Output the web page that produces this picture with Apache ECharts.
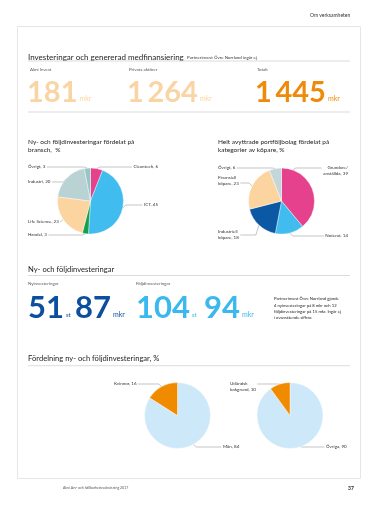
<!DOCTYPE html>
<html><head><meta charset="utf-8">
<script src="https://cdn.jsdelivr.net/npm/echarts@6/dist/echarts.min.js"></script>
<style>html,body{margin:0;padding:0;background:#fff}#c{width:380px;height:506px}</style>
</head><body><div id="c"></div>
<script>
// ---------- data ----------
const summaryLabels = ['Almi Invest', 'Privata aktörer', 'Totalt'];
const summaryValues = [181, 1264, 1445];
const summaryUnit = 'mkr';

const investLabels = ['Nyinvesteringar', 'Följdinvesteringar'];
const investCounts = [51, 104];
const investAmounts = [87, 94];
const countUnit = 'st';
const amountUnit = 'mkr';

const sectorCategories = ['Cleantech', 'ICT', 'Handel', 'Life Science', 'Industri', 'Övrigt'];
const sectorValues = [6, 45, 3, 23, 20, 3];

const buyerCategories = ['Grundare/anställda', 'Noterat', 'Industriell köpare', 'Finansiell köpare', 'Övrigt'];
const buyerValues = [39, 14, 18, 23, 6];

const genderCategories = ['Män', 'Kvinnor'];
const genderValues = [84, 16];

const backgroundCategories = ['Övriga', 'Utländsk bakgrund'];
const backgroundValues = [90, 10];

// ---------- styles / layout ----------
const FONT = 'Lato, "Noto Sans", sans-serif';
const summaryColors = ['#f9d5a5', '#f9d5a5', '#ee8a0c'];
const summaryX = [30, 129, 257];
const summaryNumX = [27, 127, 255];
const investColors = ['#0d4f9f', '#3bb8ee'];
const investLabelX = [28, 136];
const investCountX = [28, 136];
const investAmountX = [75, 204];

const sectorColors = ['#e5418d', '#40bcef', '#17a04c', '#fcd4a0', '#b9d2d4', '#98c6c7'];
const buyerColors = ['#e5418d', '#40bcef', '#0b58a5', '#fcd4a0', '#c3d7db'];
const shareColors = ['#cde8f8', '#f08b00'];

const wrapAt = { 'Grundare/anställda': '/', 'Industriell köpare': ' ', 'Finansiell köpare': ' ', 'Utländsk bakgrund': ' ' };
function wrapName(n) {
  const ch = wrapAt[n];
  if (!ch) return n;
  return ch === '/' ? n.replace('/', '/\n') : n.replace(' ', '\n');
}
function fmt(v) {
  const s = String(v);
  return s.length > 3 ? s.slice(0, s.length - 3) + '\u2009' + s.slice(-3) : s;
}

const g = [];
function txt(x, y, text, opt) {
  g.push({ type: 'text', x: x, y: y, silent: true,
    style: Object.assign({ text: text, fontFamily: FONT, fontSize: 5, fill: '#333', align: 'left', verticalAlign: 'middle' }, opt || {}) });
}
function hline(x1, x2, y, color, w) {
  g.push({ type: 'line', silent: true, shape: { x1: x1, y1: y, x2: x2, y2: y }, style: { stroke: color || '#c4c4c4', lineWidth: w || 0.6 } });
}
function bigNumber(x, bottom, value, unit, color, size, unitSize, lift) {
  g.push({ type: 'text', x: x, y: bottom, silent: true, style: {
    text: '{n|' + fmt(value) + '}{u|' + unit + '}', align: 'left', verticalAlign: 'bottom',
    rich: {
      n: { fontFamily: FONT, fontSize: size, fontWeight: 'bold', fill: color, lineHeight: size, verticalAlign: 'bottom' },
      u: { fontFamily: FONT, fontSize: unitSize, fill: color, lineHeight: unitSize, verticalAlign: 'bottom', padding: [0, 0, lift, 2] }
    } } });
}

// frame
g.push({ type: 'rect', silent: true, z: -1, shape: { x: 17.5, y: 26.5, width: 343, height: 452 }, style: { fill: '#fff', stroke: '#e6e6e6', lineWidth: 1 } });
txt(310, 15, 'Om verksamheten', { fontSize: 5, fill: '#333' });

// section 1
g.push({ type: 'text', x: 28, y: 55, silent: true, style: {
  text: '{t|Investeringar och genererad medfinansiering} {s|Partnerinvest Övre Norrland ingår ej}', verticalAlign: 'middle',
  rich: { t: { fontFamily: FONT, fontSize: 8, fill: '#1e1e1e', verticalAlign: 'bottom', lineHeight: 9 },
          s: { fontFamily: FONT, fontSize: 4.4, fill: '#333', verticalAlign: 'bottom', lineHeight: 4.4, padding: [0, 0, 1.5, 0] } } } });
hline(28, 350, 61);
summaryLabels.forEach((l, i) => {
  txt(summaryX[i], 70, l, { fontSize: 4.4, fill: '#555' });
  bigNumber(summaryNumX[i], 107.5, summaryValues[i], summaryUnit, summaryColors[i], 29, 7, 5);
});
hline(28, 350, 112);

// pie titles
txt(28, 146, 'Ny- och följdinvesteringar fördelat på\nbransch,  %', { fontSize: 6.5, lineHeight: 8.5, fill: '#1e1e1e' });
txt(218, 146, 'Helt avyttrade portföljbolag fördelat på\nkategorier av köpare, %', { fontSize: 6.5, lineHeight: 8.5, fill: '#1e1e1e' });

// section 2
txt(28, 270, 'Ny- och följdinvesteringar', { fontSize: 7.6, fill: '#1e1e1e' });
hline(28, 350, 275.5);
investLabels.forEach((l, i) => {
  txt(investLabelX[i], 284, l, { fontSize: 4.4, fill: '#555' });
  bigNumber(investCountX[i], 323.5, investCounts[i], countUnit, investColors[i], 31, 6, 5.5);
  bigNumber(investAmountX[i], 323.5, investAmounts[i], amountUnit, investColors[i], 31, 7, 5.5);
});
txt(274, 308.5, 'Partnerinvest Övre Norrland gjorde\n4 nyinvesteringar på 8 mkr och 12\nföljdinvesteringar på 15 mkr. Ingår ej\ni ovanstående siffror.', { fontSize: 4.2, lineHeight: 6.3, fill: '#222' });

// section 3
txt(28, 359, 'Fördelning ny- och följdinvesteringar, %', { fontSize: 7.6, fill: '#1e1e1e' });
hline(28, 350, 365.7);

// footer
txt(63, 488, 'Almi Års- och hållbarhetsredovisning 2017', { fontSize: 3.5, fill: '#555' });
txt(348, 488, '37', { fontSize: 5, fontWeight: 'bold', fill: '#222' });

// ---------- pies ----------
const R = 33;
function makeLayout(spots, center) {
  return function (p) {
    const s = spots[p.dataIndex];
    let p0 = p.labelLinePoints && p.labelLinePoints[0];
    if (s.anchorDeg != null || !p0) {
      const a = (s.anchorDeg || 0) * Math.PI / 180;
      p0 = [center[0] + R * Math.sin(a), center[1] - R * Math.cos(a)];
    }
    const w = p.labelRect.width;
    let endX;
    if (s.align === 'right') endX = s.x - w - 1.5;
    else endX = (s.x < p0[0]) ? s.x + w + 1.5 : s.x - 1.5;
    const dir = endX < p0[0] ? -1 : 1;
    const bend = [p0[0] + dir * 3, s.ly];
    return { x: s.x, y: s.ty, align: s.align, verticalAlign: 'middle', labelLinePoints: [p0, bend, [endX, s.ly]] };
  };
}
function pieSeries(cats, vals, colors, center, spots) {
  return {
    type: 'pie', center: center, radius: R, startAngle: 90, clockwise: true, avoidLabelOverlap: false,
    silent: true, animation: false,
    itemStyle: { borderColor: '#fff', borderWidth: 0.4 },
    data: cats.map((c, i) => ({ name: c, value: vals[i], itemStyle: { color: colors[i] } })),
    label: { show: true, position: 'outside', fontFamily: FONT, fontSize: 4.5, lineHeight: 6, color: '#333',
      formatter: p => wrapName(p.name) + ', ' + p.value },
    labelLine: { show: true, length: 3, length2: 6, lineStyle: { color: '#8a8a8a', width: 0.5 } },
    labelLayout: makeLayout(spots, center)
  };
}
const sectorSpots = [
  { x: 158, align: 'right', ty: 167, ly: 167 },
  { x: 158, align: 'right', ty: 205, ly: 205 },
  { x: 28, align: 'left', ty: 235, ly: 235 },
  { x: 28, align: 'left', ty: 222, ly: 222 },
  { x: 28, align: 'left', ty: 182, ly: 182 },
  { x: 28, align: 'left', ty: 167, ly: 167 }
];
const buyerSpots = [
  { x: 348, align: 'right', ty: 171, ly: 168, anchorDeg: 20 },
  { x: 348, align: 'right', ty: 236, ly: 236 },
  { x: 218, align: 'left', ty: 234.5, ly: 235 },
  { x: 218, align: 'left', ty: 181, ly: 183 },
  { x: 218, align: 'left', ty: 168, ly: 168 }
];
const genderSpots = [
  { x: 223, align: 'left', ty: 447, ly: 447 },
  { x: 114, align: 'left', ty: 384, ly: 384 }
];
const backgroundSpots = [
  { x: 326, align: 'left', ty: 447, ly: 447 },
  { x: 230, align: 'left', ty: 386.5, ly: 384 }
];

const chart = echarts.init(document.getElementById('c'), null, { renderer: 'canvas' });
chart.setOption({
  backgroundColor: '#ffffff',
  animation: false,
  graphic: { elements: g },
  series: [
    pieSeries(sectorCategories, sectorValues, sectorColors, [90.5, 201], sectorSpots),
    pieSeries(buyerCategories, buyerValues, buyerColors, [281.5, 201], buyerSpots),
    pieSeries(genderCategories, genderValues, shareColors, [177.5, 415.5], genderSpots),
    pieSeries(backgroundCategories, backgroundValues, shareColors, [290, 415.5], backgroundSpots)
  ]
});
</script></body></html>
